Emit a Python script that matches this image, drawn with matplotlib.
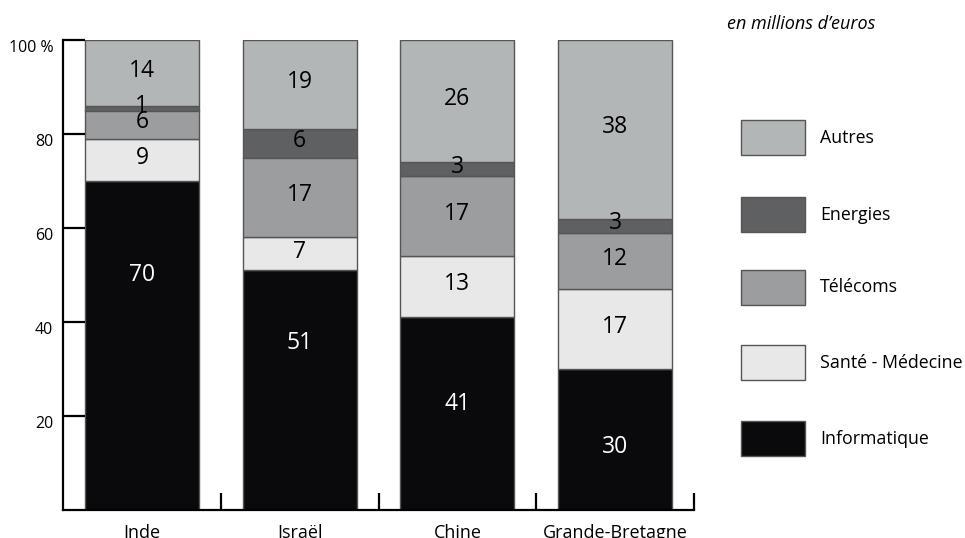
import numpy as np
import matplotlib.pyplot as plt
from matplotlib.patches import Rectangle

plt.rcParams['font.family'] = ['Open Sans', 'DejaVu Sans']

# donnees (en % / millions d'euros)
pays = ['Inde', 'Israël', 'Chine', 'Grande-Bretagne']
secteurs = ['Informatique', 'Santé - Médecine', 'Télécoms', 'Energies', 'Autres']
informatique = [70, 51, 41, 30]
sante = [9, 7, 13, 17]
telecoms = [6, 17, 17, 12]
energies = [1, 6, 3, 3]
autres = [14, 19, 26, 38]
y_ticks = [20, 40, 60, 80, 100]
y_tick_labels = ['20', '40', '60', '80', '100 %']

# position verticale des etiquettes "Informatique" (pas au centre dans l'original)
pos_informatique = [50, 35.5, 22.5, 13.5]

couleurs = ['#0a0a0c', '#e8e8e8', '#9c9d9f', '#5f6062', '#b3b6b7']
couleurs_texte = ['white', 'black', 'black', 'black', 'black']

fig = plt.figure(figsize=(9.65, 5.38), dpi=100)
ax = fig.add_axes([63 / 965, 28 / 538, 631 / 965, 470 / 538])

x = np.arange(len(pays))
series = [informatique, sante, telecoms, energies, autres]
bas = np.zeros(len(pays))
for i, (valeurs, couleur, ct) in enumerate(zip(series, couleurs, couleurs_texte)):
    valeurs = np.array(valeurs)
    ax.bar(x, valeurs, bottom=bas, width=0.723, color=couleur,
           edgecolor='#555555', linewidth=1)
    for j, (xi, b, v) in enumerate(zip(x, bas, valeurs)):
        yt = pos_informatique[j] if i == 0 else b + v / 2 + 0.5
        ax.text(xi, yt, str(v), ha='center', va='center',
                fontsize=16.5, color=ct)
    bas += valeurs

ax.set_xlim(-0.5, 3.5)
ax.set_ylim(0, 100)

# axes
for s in ['top', 'right']:
    ax.spines[s].set_visible(False)
ax.spines['left'].set_linewidth(1.6)
ax.spines['bottom'].set_linewidth(1.6)

ax.set_yticks(y_ticks)
ax.set_yticklabels(y_tick_labels, fontsize=11.5)
ax.tick_params(axis='y', direction='in', length=16, width=1.6, pad=7)
for lab in ax.get_yticklabels():
    lab.set_va('top')

ax.set_xticks(x)
ax.set_xticklabels(pays, fontsize=13)
ax.tick_params(axis='x', length=0, pad=10)
ax.set_xticks(list(x[1:] - 0.5) + [3.5], minor=True)
ax.tick_params(axis='x', which='minor', direction='in', length=12, width=1.6)

# legende manuelle
legende_y = [120, 197, 270, 345, 421]
for sect, couleur, yp in zip(secteurs[::-1], couleurs[::-1], legende_y):
    fig.add_artist(Rectangle((741 / 965, 1 - (yp + 35) / 538), 64 / 965, 35 / 538,
                             transform=fig.transFigure, facecolor=couleur,
                             edgecolor='#555555', linewidth=1))
    fig.text(820 / 965, 1 - (yp + 17.5) / 538, sect, ha='left', va='center',
             fontsize=12.8)

fig.text(727 / 965, 1 - 24 / 538, 'en millions d\u2019euros', ha='left', va='center',
         fontsize=13, style='italic')

fig.savefig('out.png', dpi=100)
